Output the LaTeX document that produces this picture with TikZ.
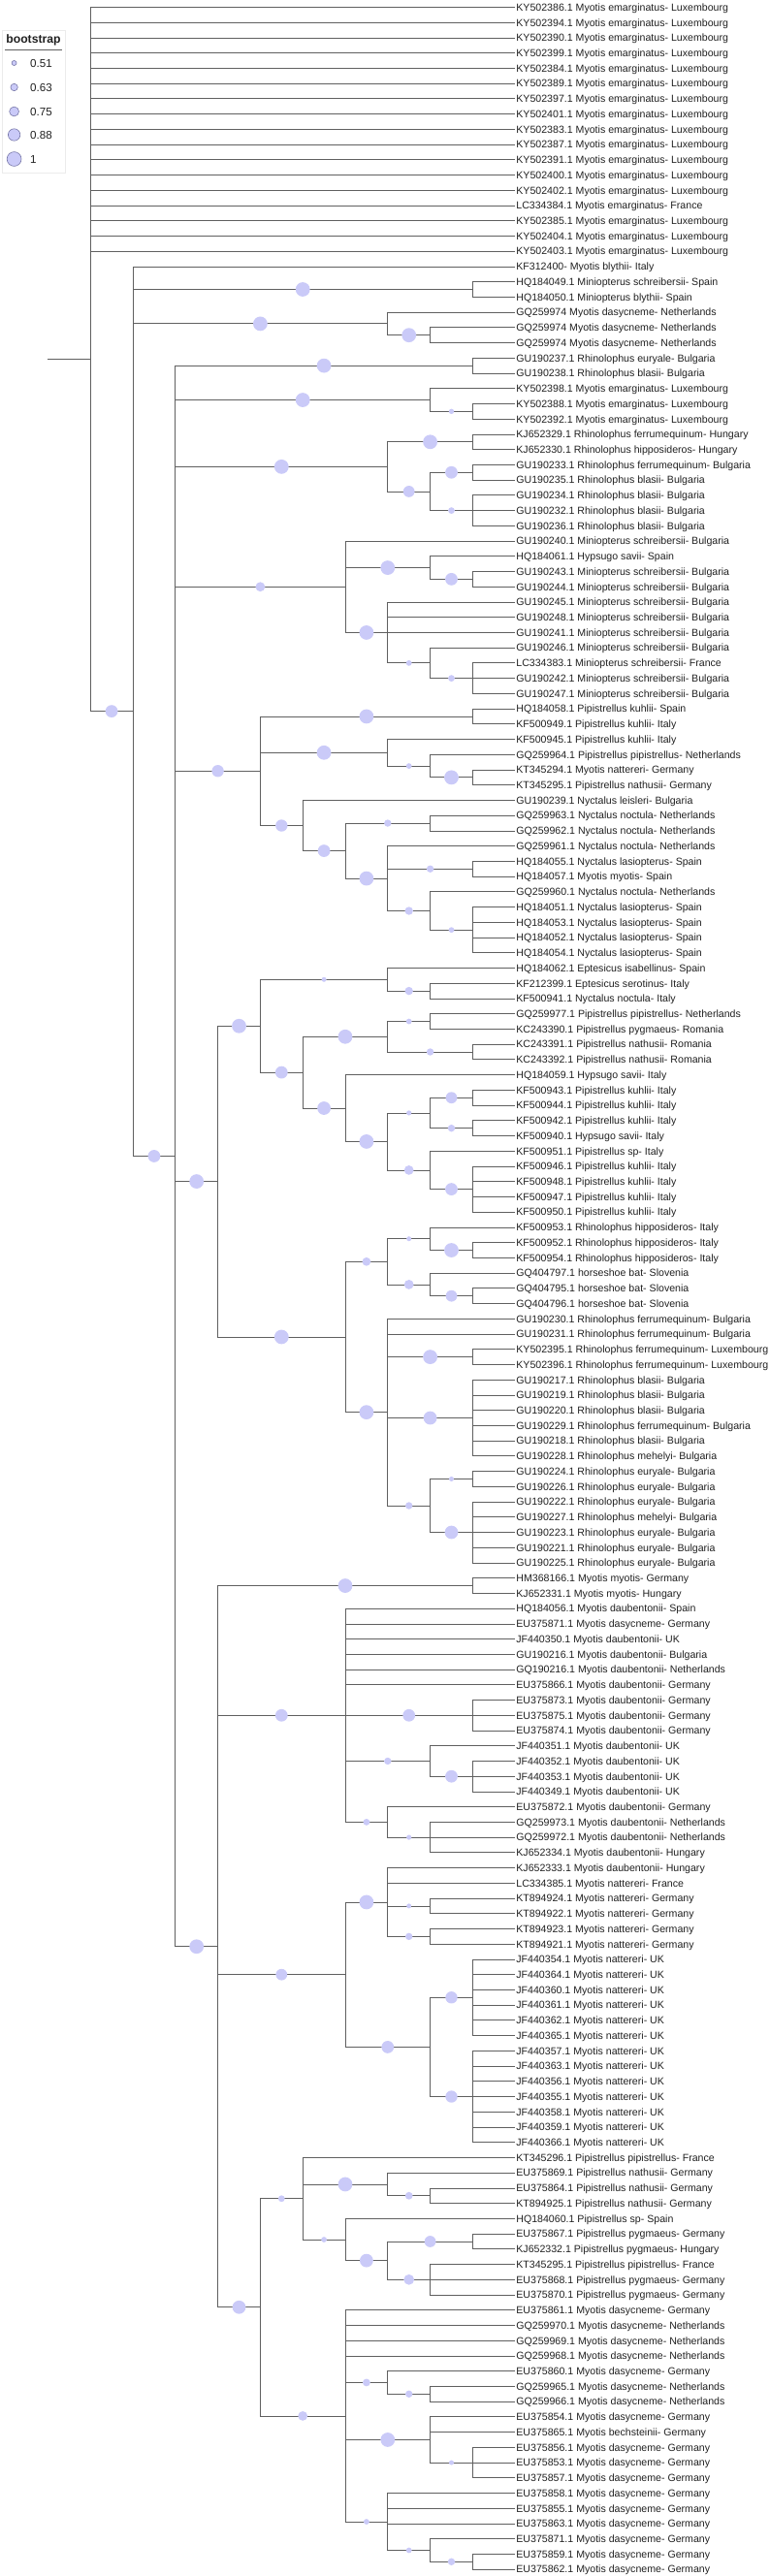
\documentclass[tikz,border=0pt]{standalone}
\usepackage{fontspec}
\setmainfont{Liberation Sans}
\usepackage{tikz}

\definecolor{bootfill}{RGB}{202,202,248}
\definecolor{bootrim}{RGB}{120,120,168}
\definecolor{branch}{RGB}{96,96,96}
\definecolor{labeltext}{RGB}{32,32,32}

\tikzset{
    boot/.style={circle, fill=bootfill, inner sep=0pt, minimum size={5pt+20pt*(#1-0.51)}},
    keydot/.style={boot=#1, draw=bootrim, line width=0.6pt},
    taxon/.style={anchor=west, inner sep=1pt, text height=7.6pt, text depth=0pt,
        text=labeltext, font=\fontsize{10.6}{12}\selectfont},
    keylabel/.style={anchor=west, inner sep=0pt, text height=8.4pt, text depth=0pt,
        text=labeltext, font=\fontsize{11.6}{13}\selectfont}
}

\begin{document}
\begin{tikzpicture}[x=43.8pt,y=-15.73pt]
        % frame and key, in pixels
        \begin{scope}[x=1pt,y=-1pt,shift={(-49.4pt,-8.23pt)}]
            \useasboundingbox (0,0) rectangle (790,2657);
            \node[draw=black!8, line width=0.6pt, inner sep=0pt, minimum width=64.5pt, minimum height=147pt, anchor=north west] (keybox) at (2.5,31) {};
            \node[text=labeltext, font=\fontsize{12.2}{14}\selectfont\bfseries] (keytitle) at (34.5,41) {bootstrap};
            \draw[branch, line width=0.8pt] (5,51) -- (64,51);
            \node[keydot=0.51] (k1) at (14.6,65) {};
            \node[keydot=0.63] (k2) at (14.6,90) {};
            \node[keydot=0.75] (k3) at (14.6,115) {};
            \node[keydot=0.88] (k4) at (14.6,139) {};
            \node[keydot=1] (k5) at (14.6,164) {};
            \node[keylabel] (k1t) at (31,65) {0.51};
            \node[keylabel] (k2t) at (31,90) {0.63};
            \node[keylabel] (k3t) at (31,115) {0.75};
            \node[keylabel] (k4t) at (31,139) {0.88};
            \node[keylabel] (k5t) at (31,164) {1};
        \end{scope}

        % taxa
        \begin{scope}[every node/.style={taxon}]
            \node (l1) at (11,1) {KY502386.1 Myotis emarginatus- Luxembourg};
            \node (l2) at (11,2) {KY502394.1 Myotis emarginatus- Luxembourg};
            \node (l3) at (11,3) {KY502390.1 Myotis emarginatus- Luxembourg};
            \node (l4) at (11,4) {KY502399.1 Myotis emarginatus- Luxembourg};
            \node (l5) at (11,5) {KY502384.1 Myotis emarginatus- Luxembourg};
            \node (l6) at (11,6) {KY502389.1 Myotis emarginatus- Luxembourg};
            \node (l7) at (11,7) {KY502397.1 Myotis emarginatus- Luxembourg};
            \node (l8) at (11,8) {KY502401.1 Myotis emarginatus- Luxembourg};
            \node (l9) at (11,9) {KY502383.1 Myotis emarginatus- Luxembourg};
            \node (l10) at (11,10) {KY502387.1 Myotis emarginatus- Luxembourg};
            \node (l11) at (11,11) {KY502391.1 Myotis emarginatus- Luxembourg};
            \node (l12) at (11,12) {KY502400.1 Myotis emarginatus- Luxembourg};
            \node (l13) at (11,13) {KY502402.1 Myotis emarginatus- Luxembourg};
            \node (l14) at (11,14) {LC334384.1 Myotis emarginatus- France};
            \node (l15) at (11,15) {KY502385.1 Myotis emarginatus- Luxembourg};
            \node (l16) at (11,16) {KY502404.1 Myotis emarginatus- Luxembourg};
            \node (l17) at (11,17) {KY502403.1 Myotis emarginatus- Luxembourg};
            \node (l18) at (11,18) {KF312400- Myotis blythii- Italy};
            \node (l19) at (11,19) {HQ184049.1 Miniopterus schreibersii- Spain};
            \node (l20) at (11,20) {HQ184050.1 Miniopterus blythii- Spain};
            \node (l21) at (11,21) {GQ259974 Myotis dasycneme- Netherlands};
            \node (l22) at (11,22) {GQ259974 Myotis dasycneme- Netherlands};
            \node (l23) at (11,23) {GQ259974 Myotis dasycneme- Netherlands};
            \node (l24) at (11,24) {GU190237.1 Rhinolophus euryale- Bulgaria};
            \node (l25) at (11,25) {GU190238.1 Rhinolophus blasii- Bulgaria};
            \node (l26) at (11,26) {KY502398.1 Myotis emarginatus- Luxembourg};
            \node (l27) at (11,27) {KY502388.1 Myotis emarginatus- Luxembourg};
            \node (l28) at (11,28) {KY502392.1 Myotis emarginatus- Luxembourg};
            \node (l29) at (11,29) {KJ652329.1 Rhinolophus ferrumequinum- Hungary};
            \node (l30) at (11,30) {KJ652330.1 Rhinolophus hipposideros- Hungary};
            \node (l31) at (11,31) {GU190233.1 Rhinolophus ferrumequinum- Bulgaria};
            \node (l32) at (11,32) {GU190235.1 Rhinolophus blasii- Bulgaria};
            \node (l33) at (11,33) {GU190234.1 Rhinolophus blasii- Bulgaria};
            \node (l34) at (11,34) {GU190232.1 Rhinolophus blasii- Bulgaria};
            \node (l35) at (11,35) {GU190236.1 Rhinolophus blasii- Bulgaria};
            \node (l36) at (11,36) {GU190240.1 Miniopterus schreibersii- Bulgaria};
            \node (l37) at (11,37) {HQ184061.1 Hypsugo savii- Spain};
            \node (l38) at (11,38) {GU190243.1 Miniopterus schreibersii- Bulgaria};
            \node (l39) at (11,39) {GU190244.1 Miniopterus schreibersii- Bulgaria};
            \node (l40) at (11,40) {GU190245.1 Miniopterus schreibersii- Bulgaria};
            \node (l41) at (11,41) {GU190248.1 Miniopterus schreibersii- Bulgaria};
            \node (l42) at (11,42) {GU190241.1 Miniopterus schreibersii- Bulgaria};
            \node (l43) at (11,43) {GU190246.1 Miniopterus schreibersii- Bulgaria};
            \node (l44) at (11,44) {LC334383.1 Miniopterus schreibersii- France};
            \node (l45) at (11,45) {GU190242.1 Miniopterus schreibersii- Bulgaria};
            \node (l46) at (11,46) {GU190247.1 Miniopterus schreibersii- Bulgaria};
            \node (l47) at (11,47) {HQ184058.1 Pipistrellus kuhlii- Spain};
            \node (l48) at (11,48) {KF500949.1 Pipistrellus kuhlii- Italy};
            \node (l49) at (11,49) {KF500945.1 Pipistrellus kuhlii- Italy};
            \node (l50) at (11,50) {GQ259964.1 Pipistrellus pipistrellus- Netherlands};
            \node (l51) at (11,51) {KT345294.1 Myotis nattereri- Germany};
            \node (l52) at (11,52) {KT345295.1 Pipistrellus nathusii- Germany};
            \node (l53) at (11,53) {GU190239.1 Nyctalus leisleri- Bulgaria};
            \node (l54) at (11,54) {GQ259963.1 Nyctalus noctula- Netherlands};
            \node (l55) at (11,55) {GQ259962.1 Nyctalus noctula- Netherlands};
            \node (l56) at (11,56) {GQ259961.1 Nyctalus noctula- Netherlands};
            \node (l57) at (11,57) {HQ184055.1 Nyctalus lasiopterus- Spain};
            \node (l58) at (11,58) {HQ184057.1 Myotis myotis- Spain};
            \node (l59) at (11,59) {GQ259960.1 Nyctalus noctula- Netherlands};
            \node (l60) at (11,60) {HQ184051.1 Nyctalus lasiopterus- Spain};
            \node (l61) at (11,61) {HQ184053.1 Nyctalus lasiopterus- Spain};
            \node (l62) at (11,62) {HQ184052.1 Nyctalus lasiopterus- Spain};
            \node (l63) at (11,63) {HQ184054.1 Nyctalus lasiopterus- Spain};
            \node (l64) at (11,64) {HQ184062.1 Eptesicus isabellinus- Spain};
            \node (l65) at (11,65) {KF212399.1 Eptesicus serotinus- Italy};
            \node (l66) at (11,66) {KF500941.1 Nyctalus noctula- Italy};
            \node (l67) at (11,67) {GQ259977.1 Pipistrellus pipistrellus- Netherlands};
            \node (l68) at (11,68) {KC243390.1 Pipistrellus pygmaeus- Romania};
            \node (l69) at (11,69) {KC243391.1 Pipistrellus nathusii- Romania};
            \node (l70) at (11,70) {KC243392.1 Pipistrellus nathusii- Romania};
            \node (l71) at (11,71) {HQ184059.1 Hypsugo savii- Italy};
            \node (l72) at (11,72) {KF500943.1 Pipistrellus kuhlii- Italy};
            \node (l73) at (11,73) {KF500944.1 Pipistrellus kuhlii- Italy};
            \node (l74) at (11,74) {KF500942.1 Pipistrellus kuhlii- Italy};
            \node (l75) at (11,75) {KF500940.1 Hypsugo savii- Italy};
            \node (l76) at (11,76) {KF500951.1 Pipistrellus sp- Italy};
            \node (l77) at (11,77) {KF500946.1 Pipistrellus kuhlii- Italy};
            \node (l78) at (11,78) {KF500948.1 Pipistrellus kuhlii- Italy};
            \node (l79) at (11,79) {KF500947.1 Pipistrellus kuhlii- Italy};
            \node (l80) at (11,80) {KF500950.1 Pipistrellus kuhlii- Italy};
            \node (l81) at (11,81) {KF500953.1 Rhinolophus hipposideros- Italy};
            \node (l82) at (11,82) {KF500952.1 Rhinolophus hipposideros- Italy};
            \node (l83) at (11,83) {KF500954.1 Rhinolophus hipposideros- Italy};
            \node (l84) at (11,84) {GQ404797.1 horseshoe bat- Slovenia};
            \node (l85) at (11,85) {GQ404795.1 horseshoe bat- Slovenia};
            \node (l86) at (11,86) {GQ404796.1 horseshoe bat- Slovenia};
            \node (l87) at (11,87) {GU190230.1 Rhinolophus ferrumequinum- Bulgaria};
            \node (l88) at (11,88) {GU190231.1 Rhinolophus ferrumequinum- Bulgaria};
            \node (l89) at (11,89) {KY502395.1 Rhinolophus ferrumequinum- Luxembourg};
            \node (l90) at (11,90) {KY502396.1 Rhinolophus ferrumequinum- Luxembourg};
            \node (l91) at (11,91) {GU190217.1 Rhinolophus blasii- Bulgaria};
            \node (l92) at (11,92) {GU190219.1 Rhinolophus blasii- Bulgaria};
            \node (l93) at (11,93) {GU190220.1 Rhinolophus blasii- Bulgaria};
            \node (l94) at (11,94) {GU190229.1 Rhinolophus ferrumequinum- Bulgaria};
            \node (l95) at (11,95) {GU190218.1 Rhinolophus blasii- Bulgaria};
            \node (l96) at (11,96) {GU190228.1 Rhinolophus mehelyi- Bulgaria};
            \node (l97) at (11,97) {GU190224.1 Rhinolophus euryale- Bulgaria};
            \node (l98) at (11,98) {GU190226.1 Rhinolophus euryale- Bulgaria};
            \node (l99) at (11,99) {GU190222.1 Rhinolophus euryale- Bulgaria};
            \node (l100) at (11,100) {GU190227.1 Rhinolophus mehelyi- Bulgaria};
            \node (l101) at (11,101) {GU190223.1 Rhinolophus euryale- Bulgaria};
            \node (l102) at (11,102) {GU190221.1 Rhinolophus euryale- Bulgaria};
            \node (l103) at (11,103) {GU190225.1 Rhinolophus euryale- Bulgaria};
            \node (l104) at (11,104) {HM368166.1 Myotis myotis- Germany};
            \node (l105) at (11,105) {KJ652331.1 Myotis myotis- Hungary};
            \node (l106) at (11,106) {HQ184056.1 Myotis daubentonii- Spain};
            \node (l107) at (11,107) {EU375871.1 Myotis dasycneme- Germany};
            \node (l108) at (11,108) {JF440350.1 Myotis daubentonii- UK};
            \node (l109) at (11,109) {GU190216.1 Myotis daubentonii- Bulgaria};
            \node (l110) at (11,110) {GQ190216.1 Myotis daubentonii- Netherlands};
            \node (l111) at (11,111) {EU375866.1 Myotis daubentonii- Germany};
            \node (l112) at (11,112) {EU375873.1 Myotis daubentonii- Germany};
            \node (l113) at (11,113) {EU375875.1 Myotis daubentonii- Germany};
            \node (l114) at (11,114) {EU375874.1 Myotis daubentonii- Germany};
            \node (l115) at (11,115) {JF440351.1 Myotis daubentonii- UK};
            \node (l116) at (11,116) {JF440352.1 Myotis daubentonii- UK};
            \node (l117) at (11,117) {JF440353.1 Myotis daubentonii- UK};
            \node (l118) at (11,118) {JF440349.1 Myotis daubentonii- UK};
            \node (l119) at (11,119) {EU375872.1 Myotis daubentonii- Germany};
            \node (l120) at (11,120) {GQ259973.1 Myotis daubentonii- Netherlands};
            \node (l121) at (11,121) {GQ259972.1 Myotis daubentonii- Netherlands};
            \node (l122) at (11,122) {KJ652334.1 Myotis daubentonii- Hungary};
            \node (l123) at (11,123) {KJ652333.1 Myotis daubentonii- Hungary};
            \node (l124) at (11,124) {LC334385.1 Myotis nattereri- France};
            \node (l125) at (11,125) {KT894924.1 Myotis nattereri- Germany};
            \node (l126) at (11,126) {KT894922.1 Myotis nattereri- Germany};
            \node (l127) at (11,127) {KT894923.1 Myotis nattereri- Germany};
            \node (l128) at (11,128) {KT894921.1 Myotis nattereri- Germany};
            \node (l129) at (11,129) {JF440354.1 Myotis nattereri- UK};
            \node (l130) at (11,130) {JF440364.1 Myotis nattereri- UK};
            \node (l131) at (11,131) {JF440360.1 Myotis nattereri- UK};
            \node (l132) at (11,132) {JF440361.1 Myotis nattereri- UK};
            \node (l133) at (11,133) {JF440362.1 Myotis nattereri- UK};
            \node (l134) at (11,134) {JF440365.1 Myotis nattereri- UK};
            \node (l135) at (11,135) {JF440357.1 Myotis nattereri- UK};
            \node (l136) at (11,136) {JF440363.1 Myotis nattereri- UK};
            \node (l137) at (11,137) {JF440356.1 Myotis nattereri- UK};
            \node (l138) at (11,138) {JF440355.1 Myotis nattereri- UK};
            \node (l139) at (11,139) {JF440358.1 Myotis nattereri- UK};
            \node (l140) at (11,140) {JF440359.1 Myotis nattereri- UK};
            \node (l141) at (11,141) {JF440366.1 Myotis nattereri- UK};
            \node (l142) at (11,142) {KT345296.1 Pipistrellus pipistrellus- France};
            \node (l143) at (11,143) {EU375869.1 Pipistrellus nathusii- Germany};
            \node (l144) at (11,144) {EU375864.1 Pipistrellus nathusii- Germany};
            \node (l145) at (11,145) {KT894925.1 Pipistrellus nathusii- Germany};
            \node (l146) at (11,146) {HQ184060.1 Pipistrellus sp- Spain};
            \node (l147) at (11,147) {EU375867.1 Pipistrellus pygmaeus- Germany};
            \node (l148) at (11,148) {KJ652332.1 Pipistrellus pygmaeus- Hungary};
            \node (l149) at (11,149) {KT345295.1 Pipistrellus pipistrellus- France};
            \node (l150) at (11,150) {EU375868.1 Pipistrellus pygmaeus- Germany};
            \node (l151) at (11,151) {EU375870.1 Pipistrellus pygmaeus- Germany};
            \node (l152) at (11,152) {EU375861.1 Myotis dasycneme- Germany};
            \node (l153) at (11,153) {GQ259970.1 Myotis dasycneme- Netherlands};
            \node (l154) at (11,154) {GQ259969.1 Myotis dasycneme- Netherlands};
            \node (l155) at (11,155) {GQ259968.1 Myotis dasycneme- Netherlands};
            \node (l156) at (11,156) {EU375860.1 Myotis dasycneme- Germany};
            \node (l157) at (11,157) {GQ259965.1 Myotis dasycneme- Netherlands};
            \node (l158) at (11,158) {GQ259966.1 Myotis dasycneme- Netherlands};
            \node (l159) at (11,159) {EU375854.1 Myotis dasycneme- Germany};
            \node (l160) at (11,160) {EU375865.1 Myotis bechsteinii- Germany};
            \node (l161) at (11,161) {EU375856.1 Myotis dasycneme- Germany};
            \node (l162) at (11,162) {EU375853.1 Myotis dasycneme- Germany};
            \node (l163) at (11,163) {EU375857.1 Myotis dasycneme- Germany};
            \node (l164) at (11,164) {EU375858.1 Myotis dasycneme- Germany};
            \node (l165) at (11,165) {EU375855.1 Myotis dasycneme- Germany};
            \node (l166) at (11,166) {EU375863.1 Myotis dasycneme- Germany};
            \node (l167) at (11,167) {EU375871.1 Myotis dasycneme- Germany};
            \node (l168) at (11,168) {EU375859.1 Myotis dasycneme- Germany};
            \node (l169) at (11,169) {EU375862.1 Myotis dasycneme- Germany};
        \end{scope}

        % inner nodes (x = level, y = row)
        \coordinate (root) at (0,24.08);
        \coordinate (r) at (1,24.08);
        \coordinate (a) at (2,47.16);
        \coordinate (b1) at (10,19.5);
        \coordinate (b2) at (8,21.75);
        \coordinate (b2a) at (9,22.5);
        \coordinate (c) at (3,76.33);
        \coordinate (c1) at (10,24.5);
        \coordinate (c2) at (9,26.75);
        \coordinate (c2a) at (10,27.5);
        \coordinate (c3) at (8,31.125);
        \coordinate (c3a) at (10,29.5);
        \coordinate (c3b) at (9,32.75);
        \coordinate (c3b1) at (10,31.5);
        \coordinate (c3b2) at (10,34);
        \coordinate (c4) at (7,39);
        \coordinate (c4a) at (9,37.75);
        \coordinate (c4a1) at (10,38.5);
        \coordinate (c4b) at (8,42);
        \coordinate (c4b1) at (9,44);
        \coordinate (c4b1a) at (10,45);
        \coordinate (d) at (5,51.078);
        \coordinate (d1) at (10,47.5);
        \coordinate (d2) at (8,49.875);
        \coordinate (d2a) at (9,50.75);
        \coordinate (d2a1) at (10,51.5);
        \coordinate (d3) at (6,54.656);
        \coordinate (d3a) at (7,56.3125);
        \coordinate (d3a1) at (9,54.5);
        \coordinate (d3a2) at (8,58.125);
        \coordinate (d3a2a) at (10,57.5);
        \coordinate (d3a2b) at (9,60.25);
        \coordinate (d3a2b1) at (10,61.5);
        \coordinate (e) at (4,77.99);
        \coordinate (e1) at (5,67.8);
        \coordinate (e1a) at (8,64.75);
        \coordinate (e1a1) at (9,65.5);
        \coordinate (e1b) at (6,70.84);
        \coordinate (e1b1) at (8,68.5);
        \coordinate (e1b1a) at (9,67.5);
        \coordinate (e1b1b) at (10,69.5);
        \coordinate (e1b2) at (7,73.1875);
        \coordinate (e1b2a) at (8,75.375);
        \coordinate (e1b2a1) at (9,73.5);
        \coordinate (e1b2a1a) at (10,72.5);
        \coordinate (e1b2a1b) at (10,74.5);
        \coordinate (e1b2a2) at (9,77.25);
        \coordinate (e1b2a2a) at (10,78.5);
        \coordinate (e2) at (7,88.1875);
        \coordinate (e2a) at (8,83.25);
        \coordinate (e2a1) at (9,81.75);
        \coordinate (e2a1a) at (10,82.5);
        \coordinate (e2a2) at (9,84.75);
        \coordinate (e2a2a) at (10,85.5);
        \coordinate (e2b) at (8,93.125);
        \coordinate (e2b1) at (10,89.5);
        \coordinate (e2b2) at (10,93.5);
        \coordinate (e2b3) at (9,99.25);
        \coordinate (e2b3a) at (10,97.5);
        \coordinate (e2b3b) at (10,101);
        \coordinate (f) at (4,128.16);
        \coordinate (f1) at (10,104.5);
        \coordinate (f2) at (7,113);
        \coordinate (f2a) at (10,113);
        \coordinate (f2b) at (9,116);
        \coordinate (f2b1) at (10,117);
        \coordinate (f2c) at (8,120);
        \coordinate (f2c1) at (9,121);
        \coordinate (f3) at (7,130);
        \coordinate (f3a) at (8,125.25);
        \coordinate (f3a1) at (9,125.5);
        \coordinate (f3a2) at (9,127.5);
        \coordinate (f3b) at (9,134.75);
        \coordinate (f3b1) at (10,131.5);
        \coordinate (f3b2) at (10,138);
        \coordinate (f4) at (5,151.81);
        \coordinate (f4a) at (6,144.69);
        \coordinate (f4a1) at (8,143.75);
        \coordinate (f4a1a) at (9,144.5);
        \coordinate (f4a2) at (7,147.375);
        \coordinate (f4a2a) at (8,148.75);
        \coordinate (f4a2a1) at (10,147.5);
        \coordinate (f4a2a2) at (9,150);
        \coordinate (f4b) at (7,158.94);
        \coordinate (f4b1) at (8,156.75);
        \coordinate (f4b1a) at (9,157.5);
        \coordinate (f4b2) at (9,160.5);
        \coordinate (f4b2a) at (10,162);
        \coordinate (f4b3) at (8,165.875);
        \coordinate (f4b3a) at (9,167.75);
        \coordinate (f4b3a1) at (10,168.5);

        % branches
        \begin{scope}[every edge/.style={draw=branch, line width=0.8pt, to path={|- (\tikztotarget)}}]
            \path [-] (root) edge (r);
            \path [-] (r) edge (l1.west) edge (l2.west) edge (l3.west) edge (l4.west) edge (l5.west) edge (l6.west)
                edge (l7.west) edge (l8.west) edge (l9.west) edge (l10.west) edge (l11.west) edge (l12.west)
                edge (l13.west) edge (l14.west) edge (l15.west) edge (l16.west) edge (l17.west) edge (a);
            \path [-] (a) edge (l18.west) edge (b1) edge (b2) edge (c);
            \path [-] (b1) edge (l19.west) edge (l20.west);
            \path [-] (b2) edge (l21.west) edge (b2a);
            \path [-] (b2a) edge (l22.west) edge (l23.west);
            \path [-] (c) edge (c1) edge (c2) edge (c3) edge (c4) edge (d) edge (e) edge (f);
            \path [-] (c1) edge (l24.west) edge (l25.west);
            \path [-] (c2) edge (l26.west) edge (c2a);
            \path [-] (c2a) edge (l27.west) edge (l28.west);
            \path [-] (c3) edge (c3a) edge (c3b);
            \path [-] (c3a) edge (l29.west) edge (l30.west);
            \path [-] (c3b) edge (c3b1) edge (c3b2);
            \path [-] (c3b1) edge (l31.west) edge (l32.west);
            \path [-] (c3b2) edge (l33.west) edge (l34.west) edge (l35.west);
            \path [-] (c4) edge (l36.west) edge (c4a) edge (c4b);
            \path [-] (c4a) edge (l37.west) edge (c4a1);
            \path [-] (c4a1) edge (l38.west) edge (l39.west);
            \path [-] (c4b) edge (l40.west) edge (l41.west) edge (l42.west) edge (c4b1);
            \path [-] (c4b1) edge (l43.west) edge (c4b1a);
            \path [-] (c4b1a) edge (l44.west) edge (l45.west) edge (l46.west);
            \path [-] (d) edge (d1) edge (d2) edge (d3);
            \path [-] (d1) edge (l47.west) edge (l48.west);
            \path [-] (d2) edge (l49.west) edge (d2a);
            \path [-] (d2a) edge (l50.west) edge (d2a1);
            \path [-] (d2a1) edge (l51.west) edge (l52.west);
            \path [-] (d3) edge (l53.west) edge (d3a);
            \path [-] (d3a) edge (d3a1) edge (d3a2);
            \path [-] (d3a1) edge (l54.west) edge (l55.west);
            \path [-] (d3a2) edge (l56.west) edge (d3a2a) edge (d3a2b);
            \path [-] (d3a2a) edge (l57.west) edge (l58.west);
            \path [-] (d3a2b) edge (l59.west) edge (d3a2b1);
            \path [-] (d3a2b1) edge (l60.west) edge (l61.west) edge (l62.west) edge (l63.west);
            \path [-] (e) edge (e1) edge (e2);
            \path [-] (e1) edge (e1a) edge (e1b);
            \path [-] (e1a) edge (l64.west) edge (e1a1);
            \path [-] (e1a1) edge (l65.west) edge (l66.west);
            \path [-] (e1b) edge (e1b1) edge (e1b2);
            \path [-] (e1b1) edge (e1b1a) edge (e1b1b);
            \path [-] (e1b1a) edge (l67.west) edge (l68.west);
            \path [-] (e1b1b) edge (l69.west) edge (l70.west);
            \path [-] (e1b2) edge (l71.west) edge (e1b2a);
            \path [-] (e1b2a) edge (e1b2a1) edge (e1b2a2);
            \path [-] (e1b2a1) edge (e1b2a1a) edge (e1b2a1b);
            \path [-] (e1b2a1a) edge (l72.west) edge (l73.west);
            \path [-] (e1b2a1b) edge (l74.west) edge (l75.west);
            \path [-] (e1b2a2) edge (l76.west) edge (e1b2a2a);
            \path [-] (e1b2a2a) edge (l77.west) edge (l78.west) edge (l79.west) edge (l80.west);
            \path [-] (e2) edge (e2a) edge (e2b);
            \path [-] (e2a) edge (e2a1) edge (e2a2);
            \path [-] (e2a1) edge (l81.west) edge (e2a1a);
            \path [-] (e2a1a) edge (l82.west) edge (l83.west);
            \path [-] (e2a2) edge (l84.west) edge (e2a2a);
            \path [-] (e2a2a) edge (l85.west) edge (l86.west);
            \path [-] (e2b) edge (l87.west) edge (l88.west) edge (e2b1) edge (e2b2) edge (e2b3);
            \path [-] (e2b1) edge (l89.west) edge (l90.west);
            \path [-] (e2b2) edge (l91.west) edge (l92.west) edge (l93.west) edge (l94.west) edge (l95.west) edge (l96.west);
            \path [-] (e2b3) edge (e2b3a) edge (e2b3b);
            \path [-] (e2b3a) edge (l97.west) edge (l98.west);
            \path [-] (e2b3b) edge (l99.west) edge (l100.west) edge (l101.west) edge (l102.west) edge (l103.west);
            \path [-] (f) edge (f1) edge (f2) edge (f3) edge (f4);
            \path [-] (f1) edge (l104.west) edge (l105.west);
            \path [-] (f2) edge (l106.west) edge (l107.west) edge (l108.west) edge (l109.west) edge (l110.west)
                edge (l111.west) edge (f2a) edge (f2b) edge (f2c);
            \path [-] (f2a) edge (l112.west) edge (l113.west) edge (l114.west);
            \path [-] (f2b) edge (l115.west) edge (f2b1);
            \path [-] (f2b1) edge (l116.west) edge (l117.west) edge (l118.west);
            \path [-] (f2c) edge (l119.west) edge (f2c1);
            \path [-] (f2c1) edge (l120.west) edge (l121.west) edge (l122.west);
            \path [-] (f3) edge (f3a) edge (f3b);
            \path [-] (f3a) edge (l123.west) edge (l124.west) edge (f3a1) edge (f3a2);
            \path [-] (f3a1) edge (l125.west) edge (l126.west);
            \path [-] (f3a2) edge (l127.west) edge (l128.west);
            \path [-] (f3b) edge (f3b1) edge (f3b2);
            \path [-] (f3b1) edge (l129.west) edge (l130.west) edge (l131.west) edge (l132.west) edge (l133.west) edge (l134.west);
            \path [-] (f3b2) edge (l135.west) edge (l136.west) edge (l137.west) edge (l138.west) edge (l139.west)
                edge (l140.west) edge (l141.west);
            \path [-] (f4) edge (f4a) edge (f4b);
            \path [-] (f4a) edge (l142.west) edge (f4a1) edge (f4a2);
            \path [-] (f4a1) edge (l143.west) edge (f4a1a);
            \path [-] (f4a1a) edge (l144.west) edge (l145.west);
            \path [-] (f4a2) edge (l146.west) edge (f4a2a);
            \path [-] (f4a2a) edge (f4a2a1) edge (f4a2a2);
            \path [-] (f4a2a1) edge (l147.west) edge (l148.west);
            \path [-] (f4a2a2) edge (l149.west) edge (l150.west) edge (l151.west);
            \path [-] (f4b) edge (l152.west) edge (l153.west) edge (l154.west) edge (l155.west)
                edge (f4b1) edge (f4b2) edge (f4b3);
            \path [-] (f4b1) edge (l156.west) edge (f4b1a);
            \path [-] (f4b1a) edge (l157.west) edge (l158.west);
            \path [-] (f4b2) edge (l159.west) edge (l160.west) edge (f4b2a);
            \path [-] (f4b2a) edge (l161.west) edge (l162.west) edge (l163.west);
            \path [-] (f4b3) edge (l164.west) edge (l165.west) edge (l166.west) edge (f4b3a);
            \path [-] (f4b3a) edge (l167.west) edge (f4b3a1);
            \path [-] (f4b3a1) edge (l168.west) edge (l169.west);
        \end{scope}

        % bootstrap support, halfway along each branch
        \node[boot=0.9] (sa) at (1.5,47.16) {};
        \node[boot=1] (sb1) at (6,19.5) {};
        \node[boot=1] (sb2) at (5,21.75) {};
        \node[boot=1] (sb2a) at (8.5,22.5) {};
        \node[boot=0.9] (sc) at (2.5,76.33) {};
        \node[boot=1] (sc1) at (6.5,24.5) {};
        \node[boot=1] (sc2) at (6,26.75) {};
        \node[boot=0.53] (sc2a) at (9.5,27.5) {};
        \node[boot=1] (sc3) at (5.5,31.125) {};
        \node[boot=1] (sc3a) at (9,29.5) {};
        \node[boot=0.85] (sc3b) at (8.5,32.75) {};
        \node[boot=0.9] (sc3b1) at (9.5,31.5) {};
        \node[boot=0.6] (sc3b2) at (9.5,34) {};
        \node[boot=0.75] (sc4) at (5,39) {};
        \node[boot=1] (sc4a) at (8,37.75) {};
        \node[boot=0.9] (sc4a1) at (9.5,38.5) {};
        \node[boot=1] (sc4b) at (7.5,42) {};
        \node[boot=0.55] (sc4b1) at (8.5,44) {};
        \node[boot=0.6] (sc4b1a) at (9.5,45) {};
        \node[boot=0.88] (sd) at (4,51.078) {};
        \node[boot=1] (sd1) at (7.5,47.5) {};
        \node[boot=1] (sd2) at (6.5,49.875) {};
        \node[boot=0.55] (sd2a) at (8.5,50.75) {};
        \node[boot=1] (sd2a1) at (9.5,51.5) {};
        \node[boot=0.88] (sd3) at (5.5,54.656) {};
        \node[boot=0.9] (sd3a) at (6.5,56.3125) {};
        \node[boot=0.63] (sd3a1) at (8,54.5) {};
        \node[boot=1] (sd3a2) at (7.5,58.125) {};
        \node[boot=0.63] (sd3a2a) at (9,57.5) {};
        \node[boot=0.68] (sd3a2b) at (8.5,60.25) {};
        \node[boot=0.55] (sd3a2b1) at (9.5,61.5) {};
        \node[boot=1] (se) at (3.5,77.99) {};
        \node[boot=1] (se1) at (4.5,67.8) {};
        \node[boot=0.51] (se1a) at (6.5,64.75) {};
        \node[boot=0.68] (se1a1) at (8.5,65.5) {};
        \node[boot=0.9] (se1b) at (5.5,70.84) {};
        \node[boot=1] (se1b1) at (7,68.5) {};
        \node[boot=0.55] (se1b1a) at (8.5,67.5) {};
        \node[boot=0.63] (se1b1b) at (9,69.5) {};
        \node[boot=0.95] (se1b2) at (6.5,73.1875) {};
        \node[boot=1] (se1b2a) at (7.5,75.375) {};
        \node[boot=0.52] (se1b2a1) at (8.5,73.5) {};
        \node[boot=0.85] (se1b2a1a) at (9.5,72.5) {};
        \node[boot=0.63] (se1b2a1b) at (9.5,74.5) {};
        \node[boot=0.75] (se1b2a2) at (8.5,77.25) {};
        \node[boot=0.9] (se1b2a2a) at (9.5,78.5) {};
        \node[boot=1] (se2) at (5.5,88.1875) {};
        \node[boot=0.7] (se2a) at (7.5,83.25) {};
        \node[boot=0.51] (se2a1) at (8.5,81.75) {};
        \node[boot=1] (se2a1a) at (9.5,82.5) {};
        \node[boot=0.75] (se2a2) at (8.5,84.75) {};
        \node[boot=0.85] (se2a2a) at (9.5,85.5) {};
        \node[boot=1] (se2b) at (7.5,93.125) {};
        \node[boot=1] (se2b1) at (9,89.5) {};
        \node[boot=0.95] (se2b2) at (9,93.5) {};
        \node[boot=0.63] (se2b3) at (8.5,99.25) {};
        \node[boot=0.51] (se2b3a) at (9.5,97.5) {};
        \node[boot=0.95] (se2b3b) at (9.5,101) {};
        \node[boot=1] (sf) at (3.5,128.16) {};
        \node[boot=1] (sf1) at (7,104.5) {};
        \node[boot=0.9] (sf2) at (5.5,113) {};
        \node[boot=0.9] (sf2a) at (8.5,113) {};
        \node[boot=0.63] (sf2b) at (8,116) {};
        \node[boot=0.9] (sf2b1) at (9.5,117) {};
        \node[boot=0.6] (sf2c) at (7.5,120) {};
        \node[boot=0.52] (sf2c1) at (8.5,121) {};
        \node[boot=0.85] (sf3) at (5.5,130) {};
        \node[boot=1] (sf3a) at (7.5,125.25) {};
        \node[boot=0.51] (sf3a1) at (8.5,125.5) {};
        \node[boot=0.63] (sf3a2) at (8.5,127.5) {};
        \node[boot=0.9] (sf3b) at (8,134.75) {};
        \node[boot=0.88] (sf3b1) at (9.5,131.5) {};
        \node[boot=0.88] (sf3b2) at (9.5,138) {};
        \node[boot=0.95] (sf4) at (4.5,151.81) {};
        \node[boot=0.6] (sf4a) at (5.5,144.69) {};
        \node[boot=1] (sf4a1) at (7,143.75) {};
        \node[boot=0.65] (sf4a1a) at (8.5,144.5) {};
        \node[boot=0.55] (sf4a2) at (6.5,147.375) {};
        \node[boot=0.95] (sf4a2a) at (7.5,148.75) {};
        \node[boot=0.85] (sf4a2a1) at (9,147.5) {};
        \node[boot=0.8] (sf4a2a2) at (8.5,150) {};
        \node[boot=0.75] (sf4b) at (6,158.94) {};
        \node[boot=0.65] (sf4b1) at (7.5,156.75) {};
        \node[boot=0.63] (sf4b1a) at (8.5,157.5) {};
        \node[boot=1] (sf4b2) at (8,160.5) {};
        \node[boot=0.51] (sf4b2a) at (9.5,162) {};
        \node[boot=0.55] (sf4b3) at (7.5,165.875) {};
        \node[boot=0.55] (sf4b3a) at (8.5,167.75) {};
        \node[boot=0.63] (sf4b3a1) at (9.5,168.5) {};
    \end{tikzpicture}
\end{document}
